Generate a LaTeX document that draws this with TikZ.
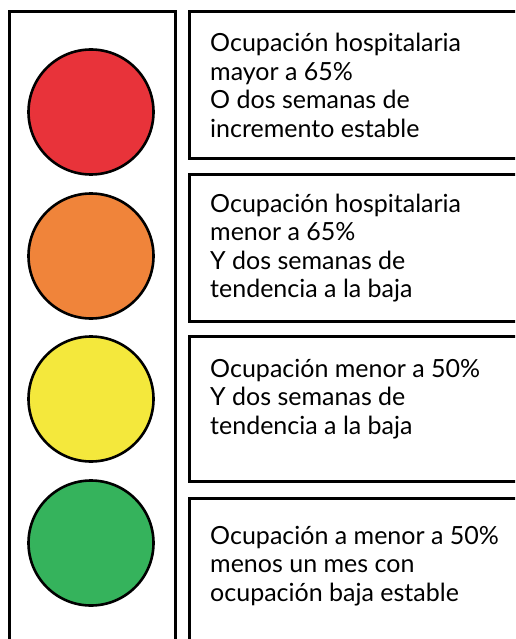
\documentclass[tikz,border=0pt]{standalone}
\usepackage{fontspec}
\setmainfont{Lato}
\usepackage{xcolor}

\definecolor{rojo}{HTML}{E8333A}
\definecolor{naranja}{HTML}{F0843A}
\definecolor{amarillo}{HTML}{F4E83C}
\definecolor{verde}{HTML}{35B35C}

\tikzset{
  caja/.style={draw, line width=2.6pt, anchor=north west, inner sep=0pt, minimum width=340pt},
  lampara/.style={circle, draw, line width=2.6pt, minimum size=125pt, inner sep=0pt},
  texto/.style={anchor=base west, align=left, inner sep=0pt, font=\fontsize{25}{28.5}\selectfont}
}

\begin{document}
\begin{tikzpicture}[x=1pt, y=-1pt]
  \useasboundingbox (0,0) rectangle (515,639);
  \clip (0,0) rectangle (515,639);

  % Draw the traffic light housing
  \node[caja, minimum width=166pt, minimum height=660pt] (semaforo) at (8,10) {};

  % Draw the lamps
  \node[lampara, fill=rojo] (luzroja) at (91,112) {};
  \node[lampara, fill=naranja] (luznaranja) at (91,256) {};
  \node[lampara, fill=amarillo] (luzamarilla) at (91,399) {};
  \node[lampara, fill=verde] (luzverde) at (91,543) {};

  % Draw the boxes
  \node[caja, minimum height=147pt] (caja1) at (188,10) {};
  \node[caja, minimum height=147pt] (caja2) at (188,173) {};
  \node[caja, minimum height=145pt] (caja3) at (188,335) {};
  \node[caja, minimum height=160pt] (caja4) at (188,497) {};

  % Write the conditions (anchored at the last line)
  \node[texto] (txt1) at (210,137.5) {Ocupación hospitalaria\\mayor a 65\%\\O dos semanas de\\incremento estable};
  \node[texto] (txt2) at (210,297.5) {Ocupación hospitalaria\\menor a 65\%\\Y dos semanas de\\tendencia a la baja};
  \node[texto] (txt3) at (210,434) {Ocupación menor a 50\%\\Y dos semanas de\\tendencia a la baja};
  \node[texto] (txt4) at (210,601) {Ocupación a menor a 50\%\\menos un mes con\\ocupación baja estable};

\end{tikzpicture}
\end{document}
